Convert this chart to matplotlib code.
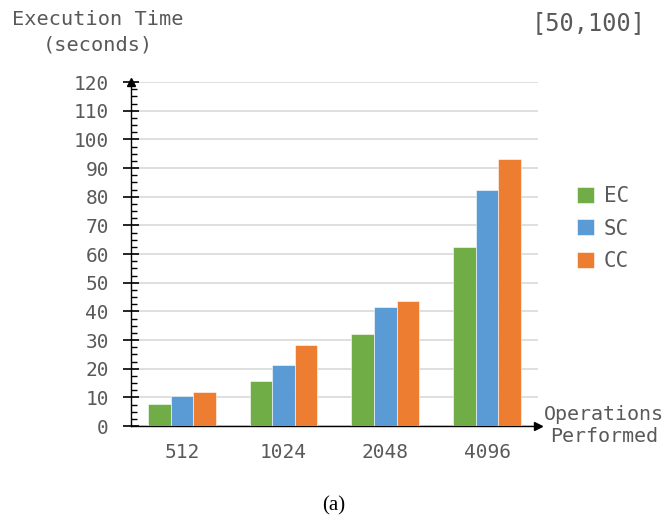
import matplotlib.pyplot as plt
import numpy as np

operations = ['512', '1024', '2048', '4096']
ec_times = [7.7, 15.8, 32.0, 62.3]
sc_times = [10.5, 21.2, 41.4, 82.3]
cc_times = [11.9, 28.3, 43.6, 93.1]
series_names = ['EC', 'SC', 'CC']
colors = ['#70AD47', '#5B9BD5', '#ED7D31']

mono = 'DejaVu Sans Mono'
text_gray = '#595959'

fig = plt.figure(figsize=(6.67, 5.24), dpi=100)
ax = fig.add_axes([0.1964, 0.187, 0.610, 0.6565])

x = np.arange(len(operations))
width = 0.222
handles = []
for i, (vals, name, c) in enumerate(zip([ec_times, sc_times, cc_times], series_names, colors)):
    b = ax.bar(x + (i - 1) * width, vals, width, color=c, edgecolor='white',
               linewidth=0.4, label=name, zorder=3)
    handles.append(b)

ax.set_xlim(-0.5, 3.5)
ax.set_ylim(0, 120)
ax.set_yticks(np.arange(0, 121, 10))
ax.set_yticks(np.arange(0, 120, 2.5), minor=True)
ax.set_xticks(x)
ax.set_xticklabels(operations)
ax.grid(axis='y', color='#d9d9d9', linewidth=1.2, zorder=0)

for s in ['top', 'right']:
    ax.spines[s].set_visible(False)
for s in ['left', 'bottom']:
    ax.spines[s].set_color('black')
    ax.spines[s].set_linewidth(1.0)

ax.tick_params(axis='y', which='major', direction='inout', length=12, width=1.2,
               labelsize=14, labelcolor=text_gray, pad=10)
ax.tick_params(axis='y', which='minor', direction='in', length=4.5, width=1.0)
ax.tick_params(axis='x', length=0, labelsize=14, labelcolor=text_gray, pad=12)
for lbl in ax.get_xticklabels() + ax.get_yticklabels():
    lbl.set_fontfamily(mono)

# arrow heads on both axes
ax.plot(1, 0, '>', color='black', markersize=6, transform=ax.transAxes, clip_on=False)
ax.plot(0, 1, '^', color='black', markersize=6, transform=ax.transAxes, clip_on=False)

fig.text(0.146, 0.98, 'Execution Time\n(seconds)', ha='center', va='top',
         fontsize=14.6, family=mono, color=text_gray, linespacing=1.4)
fig.text(0.968, 0.978, '[50,100]', ha='right', va='top',
         fontsize=17, family=mono, color=text_gray)
fig.text(0.905, 0.188, 'Operations\nPerformed', ha='center', va='center',
         fontsize=14.4, family=mono, color=text_gray, linespacing=1.25)
fig.text(0.5, 0.035, '(a)', ha='center', va='center', fontsize=15,
         family='Liberation Serif', color='black')

leg = ax.legend(handles=handles, loc='center left', bbox_to_anchor=(1.05, 0.574),
                frameon=False, handlelength=0.8, handleheight=0.8, handletextpad=0.5,
                labelspacing=0.6, prop={'family': mono, 'size': 15})
for t in leg.get_texts():
    t.set_color(text_gray)

fig.savefig('out.png', dpi=100)
